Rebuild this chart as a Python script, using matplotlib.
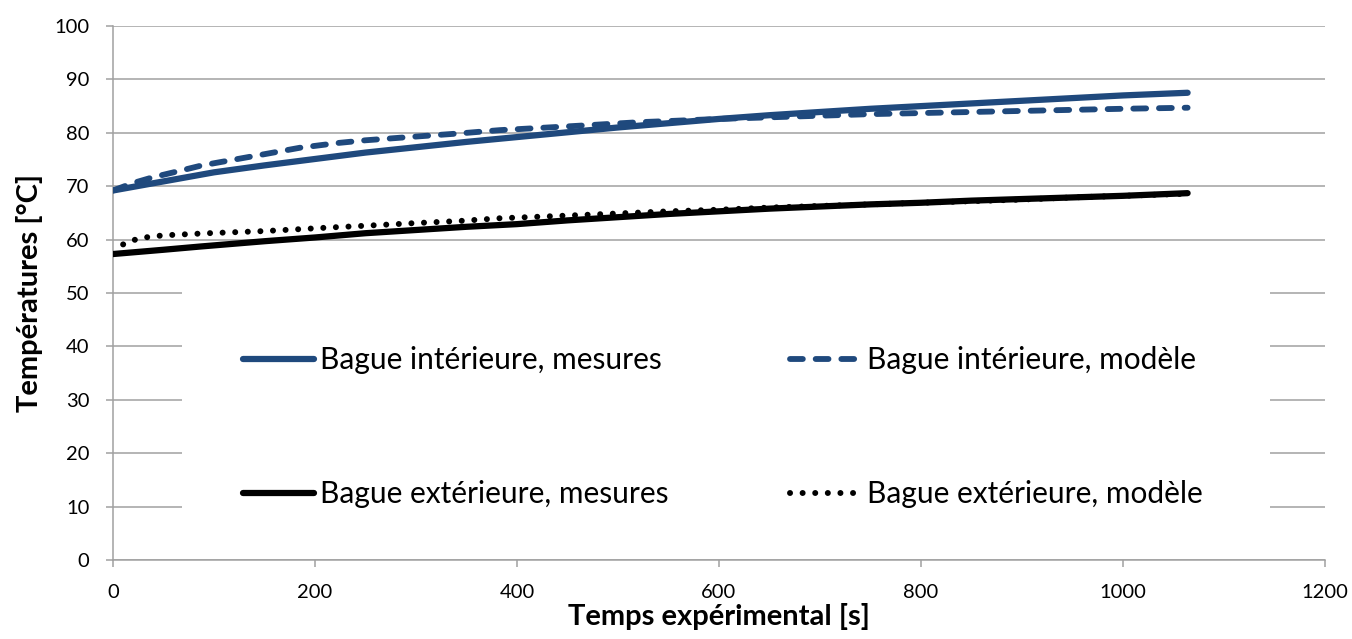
import matplotlib.pyplot as plt
from matplotlib.patches import Rectangle

plt.rcParams['font.family'] = ['Lato', 'DejaVu Sans']

# temps [s] et températures [°C]
t_int_mes = [0, 50, 100, 150, 200, 250, 300, 350, 400, 450, 500, 550, 600,
             650, 700, 750, 800, 850, 900, 950, 1000, 1064]
T_int_mes = [69.2, 70.9, 72.6, 73.9, 75.1, 76.3, 77.3, 78.3, 79.2, 80.1, 81.0, 81.8, 82.6,
             83.3, 83.9, 84.5, 85.0, 85.5, 86.0, 86.5, 87.0, 87.5]

t_int_mod = [0, 20, 40, 60, 86, 100, 150, 185, 223, 250, 300, 344, 383, 450, 522, 550,
             600, 650, 700, 750, 800, 850, 900, 950, 1000, 1064]
T_int_mod = [69.2, 70.6, 71.7, 72.6, 73.8, 74.3, 76.0, 77.2, 78.1, 78.6, 79.3, 79.9, 80.5, 81.2, 82.0, 82.2,
             82.6, 82.9, 83.2, 83.5, 83.7, 83.9, 84.1, 84.3, 84.5, 84.7]

t_ext_mes = [0, 50, 86, 150, 200, 250, 300, 350, 400, 450, 500, 550, 600,
             650, 700, 750, 800, 850, 900, 950, 1000, 1064]
T_ext_mes = [57.3, 58.1, 58.7, 59.7, 60.4, 61.2, 61.8, 62.4, 62.9, 63.6, 64.2, 64.8, 65.3,
             65.8, 66.2, 66.6, 66.9, 67.3, 67.6, 67.9, 68.2, 68.7]

t_ext_mod = [10, 20, 35, 50, 94, 150, 218, 250, 300, 344, 383, 450, 500, 550,
             600, 650, 700, 750, 800, 850, 900, 950, 1000, 1064]
T_ext_mod = [59.1, 59.9, 60.5, 60.8, 61.2, 61.6, 62.3, 62.6, 63.1, 63.5, 64.0, 64.5, 64.9, 65.3,
             65.6, 66.0, 66.3, 66.6, 66.9, 67.2, 67.5, 67.9, 68.2, 68.6]

labels = ['Bague intérieure, mesures', 'Bague intérieure, modèle',
          'Bague extérieure, mesures', 'Bague extérieure, modèle']

blue = '#1F497D'
grey = '#A0A0A0'

fig = plt.figure(figsize=(13.52, 6.39), dpi=100)
ax = fig.add_axes([0.0836, 0.1236, 0.8964, 0.8357])

l1, = ax.plot(t_int_mes, T_int_mes, color=blue, lw=4.5, solid_capstyle='round',
              solid_joinstyle='round', zorder=3)
l2, = ax.plot(t_int_mod, T_int_mod, color=blue, lw=4.2, ls=(0, (2.2, 2.2)),
              dash_capstyle='round', zorder=3)
l3, = ax.plot(t_ext_mes, T_ext_mes, color='black', lw=4.5, solid_capstyle='round',
              solid_joinstyle='round', zorder=3)
l4, = ax.plot(t_ext_mod, T_ext_mod, color='black', lw=4.3, ls=(0, (0.01, 2.1)),
              dash_capstyle='round', zorder=3)

ax.set_xlim(0, 1200)
ax.set_ylim(0, 100)
ax.set_xticks(range(0, 1201, 200))
ax.set_yticks(range(0, 101, 10))
ax.set_axisbelow(True)
ax.grid(axis='y', color=grey, lw=1.1)
for s in ['top', 'right']:
    ax.spines[s].set_visible(False)
for s in ['left', 'bottom']:
    ax.spines[s].set_color(grey)
    ax.spines[s].set_linewidth(1.1)
ax.tick_params(direction='out', length=5, width=1.1, color=grey, labelsize=14.5, pad=12)

ax.set_xlabel('Temps expérimental [s]', fontsize=21, fontweight='bold', labelpad=2)
ax.set_ylabel('Températures [°C]', fontsize=21, fontweight='bold', labelpad=8)

# fond blanc de la légende
ax.add_patch(Rectangle((0.057, 0.002), 0.898, 0.513, transform=ax.transAxes,
                       facecolor='white', edgecolor='none', zorder=1))

# ordre par colonnes : mesures à gauche, modèle à droite
leg = ax.legend([l1, l3, l2, l4], [labels[0], labels[2], labels[1], labels[3]],
                ncol=2, loc='lower left', bbox_to_anchor=(0.107, 0.097),
                frameon=False, fontsize=21.5, borderpad=0, borderaxespad=0,
                handlelength=2.4, handletextpad=0.2, columnspacing=4.05,
                labelspacing=3.55)
leg.set_zorder(4)

fig.savefig('out.png', dpi=100)
